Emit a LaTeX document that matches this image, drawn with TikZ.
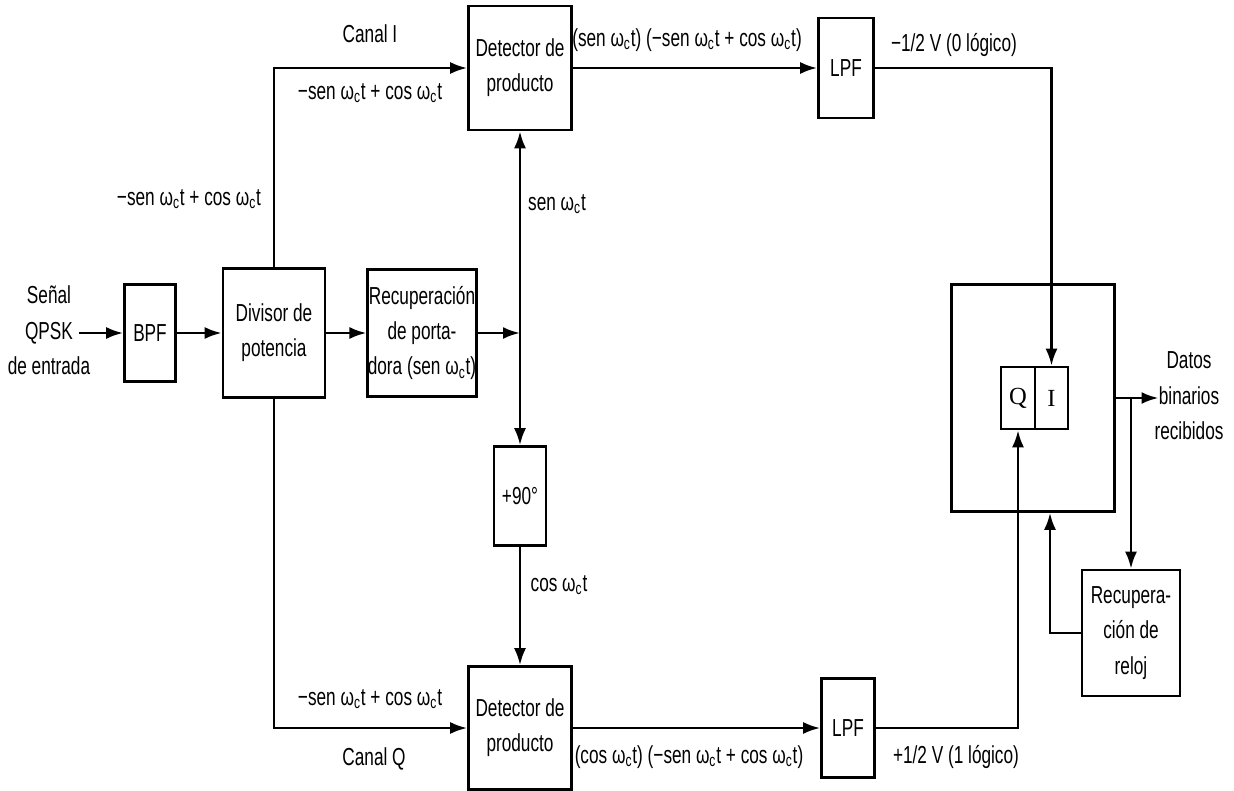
\documentclass[tikz,border=0pt]{standalone}
\usepackage{fontspec}
\setmainfont{Liberation Sans}[FakeStretch=0.7]
\newfontfamily\cellfont{Liberation Serif}
\usepackage{tikz}
\usetikzlibrary{positioning,arrows.meta,calc}
\newcommand{\wct}{ω\textsubscript{c}t}

\begin{document}
\begin{tikzpicture}[
    x=0.02cm, y=-0.02cm,
    font=\fontsize{14}{20}\selectfont,
    blk/.style={rectangle, draw, line width=1.5pt, inner sep=0pt, align=center, fill=white},
    arrow/.style={-{Latex[length=0.34cm,width=0.24cm]}, line width=1.5pt},
    sig/.style={inner sep=0pt, text height=10pt, text depth=3pt}
  ]
  \useasboundingbox (0,0) rectangle (1234,791);

  % ----- Input and middle row -----
  \node[sig] (in) at (49,333) {QPSK};
  \node[sig, above=7pt of in] (in1) {Señal};
  \node[sig, below=7pt of in] (in2) {de entrada};
  \node[blk, minimum width=1.02cm, minimum height=1.94cm] (bpf) at (150,333) {BPF};
  \node[blk, minimum width=2.04cm, minimum height=2.58cm] (div) at (274,333) {Divisor de\\potencia};
  \node[blk, minimum width=2.16cm, minimum height=2.54cm] (car) at (422,333) {Recuperación\\de porta-\\dora (sen \wct)};
  \node[blk, minimum width=1.04cm, minimum height=1.98cm] (shift) at (520,496) {+90°};

  % ----- Detectors and filters -----
  \node[blk, minimum width=2.06cm, minimum height=2.48cm] (det1) at (520,68) {Detector de\\producto};
  \node[blk, minimum width=2.06cm, minimum height=2.46cm] (det2) at (520,728) {Detector de\\producto};
  \node[blk, minimum width=1.1cm, minimum height=2.0cm] (lpf1) at (846,68) {LPF};
  \node[blk, minimum width=1.06cm, minimum height=1.98cm] (lpf2) at (848,728) {LPF};

  % ----- Decision circuit and clock -----
  \node[blk, minimum width=3.26cm, minimum height=4.54cm] (dec) at (1033,398) {};
  \node[blk, minimum width=0.68cm, minimum height=1.24cm, font=\cellfont\fontsize{14}{20}\selectfont] (qc) at (1018,398) {Q};
  \node[blk, minimum width=0.66cm, minimum height=1.24cm, font=\cellfont\fontsize{14}{20}\selectfont] (ic) at (1051.5,398) {I};
  \node[blk, minimum width=1.96cm, minimum height=2.52cm] (clk) at (1131,633) {Recupera-\\ción de\\reloj};
  \node[sig] (out) at (1189,398) {binarios};
  \node[sig, above=7pt of out] (out1) {Datos};
  \node[sig, below=7pt of out] (out2) {recibidos};

  % ----- Connectors -----
  \draw[arrow] ([xshift=3pt]in.east) -- (bpf.west);
  \draw[arrow] (bpf.east) -- (div.west);
  \draw[arrow] (div.east) -- (car.west);
  \coordinate (jn) at (car.east -| det1.south);
  \draw[arrow] (car.east) -- (jn);
  \draw[arrow] (jn) -- (det1.south);
  \draw[arrow] (jn) -- (shift.north);
  \draw[arrow] (shift.south) -- (det2.north);
  \draw[arrow] (div.north) |- (det1.west);
  \draw[arrow] (div.south) |- (det2.west);
  \draw[arrow] (det1.east) -- (lpf1.west);
  \draw[arrow] (det2.east) -- (lpf2.west);
  \draw[arrow] (lpf1.east) -| (ic.north);
  \draw[arrow] (lpf2.east) -| (qc.south);
  \draw[arrow] (dec.east) -- (out.west);
  \coordinate (br) at (clk.north |- dec.east);
  \draw[arrow] (br) -- (clk.north);
  \draw[arrow] (clk.west) -| ([xshift=0.34cm]dec.south);

  % ----- Signal labels -----
  \node[sig] (chi) at (370,36) {Canal I};
  \node[sig] (chiv) at (370,93) {−sen \wct{} + cos \wct};
  \node[sig] (divv) at (189,199) {−sen \wct{} + cos \wct};
  \node[sig] (sinv) at (557,204) {sen \wct};
  \node[sig] (cosv) at (559,585) {cos \wct};
  \node[sig] (chqv) at (370,699) {−sen \wct{} + cos \wct};
  \node[sig] (chq) at (374,759) {Canal Q};
  \node[sig] (prodi) at (687,40) {(sen \wct) (−sen \wct{} + cos \wct)};
  \node[sig] (prodq) at (689,757) {(cos \wct) (−sen \wct{} + cos \wct)};
  \node[sig] (vi) at (954,45) {−1/2 V (0 lógico)};
  \node[sig] (vq) at (956,757) {+1/2 V (1 lógico)};
\end{tikzpicture}
\end{document}
